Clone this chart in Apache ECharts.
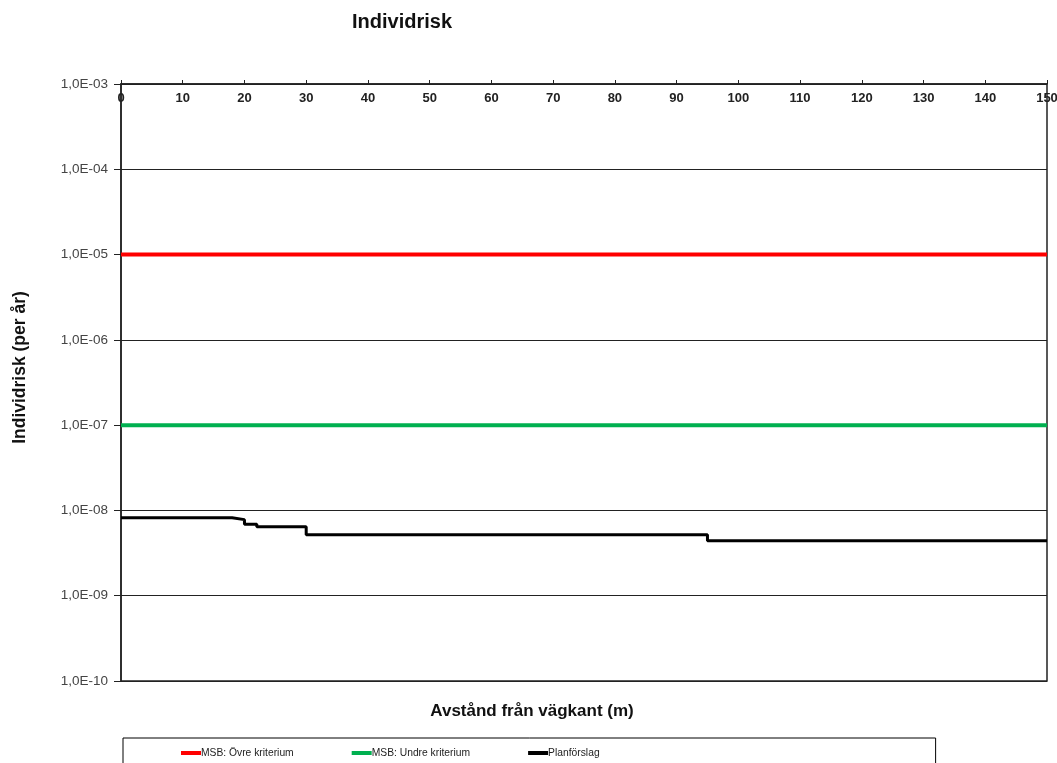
<!DOCTYPE html>
<html><head><meta charset="utf-8">
<script src="https://cdn.jsdelivr.net/npm/echarts@6/dist/echarts.min.js"></script>
<style>html,body{margin:0;padding:0;background:#fff}#c{width:1057px;height:763px}</style>
</head><body><div id="c"></div>
<script>
const distances = [0, 18, 20, 22, 30, 95, 150];
const planValues = [8.2e-9, 7.8e-9, 6.9e-9, 6.45e-9, 5.2e-9, 4.4e-9, 4.4e-9];
const criteriaX = [0, 150];
const upperValues = [1e-5, 1e-5];
const lowerValues = [1e-7, 1e-7];
const seriesNames = ['MSB: Övre kriterium', 'MSB: Undre kriterium', 'Planförslag'];
const xTicks = [0,10,20,30,40,50,60,70,80,90,100,110,120,130,140,150];

const pairs = (xs, ys) => xs.map((x, i) => [x, ys[i]]);
const font = 'Liberation Sans, Arial, sans-serif';
const chart = echarts.init(document.getElementById('c'));
chart.setOption({
  animation: false,
  title: { text: 'Individrisk', left: 347, top: 7, textStyle: { fontFamily: font, fontSize: 20, fontWeight: 'bold', color: '#111' } },
  grid: { left: 121, right: 10, top: 84, bottom: 82, show: true, borderColor: '#222', borderWidth: 1.5, backgroundColor: 'transparent', outerBoundsMode: 'none', containLabel: false },
  legend: {
    top: 738, left: 123, padding: [10, 336, 20, 58],
    borderColor: '#000', borderWidth: 1, itemGap: 58, itemWidth: 20, itemHeight: 4,
    icon: 'rect',
    textStyle: { fontFamily: font, fontSize: 10.3, color: '#222', padding: [0, 0, 0, -5] },
    data: seriesNames
  },
  xAxis: [{
    type: 'value', position: 'top', min: 0, max: 150, interval: 10,
    axisLine: { show: true, lineStyle: { color: '#222', width: 1.5 } },
    axisTick: { show: true, inside: false, length: 4, lineStyle: { color: '#222' } },
    axisLabel: { inside: true, margin: 8, fontFamily: font, fontSize: 13, fontWeight: 'bold', color: '#222', verticalAlign: 'top',
      customValues: xTicks },
    splitLine: { show: false }
  }, {
    type: 'value', position: 'bottom', min: 0, max: 150, interval: 10,
    name: 'Avstånd från vägkant (m)', nameLocation: 'middle', nameGap: 22,
    nameTextStyle: { fontFamily: font, fontSize: 17, fontWeight: 'bold', color: '#111', padding: [0, 104, 0, 0] },
    axisLine: { show: false }, axisTick: { show: false }, axisLabel: { show: false }, splitLine: { show: false }
  }],
  yAxis: {
    type: 'log', logBase: 10, min: 1e-10, max: 1e-3,
    name: 'Individrisk (per år)', nameLocation: 'middle', nameGap: 92, nameRotate: 90,
    nameTextStyle: { fontFamily: font, fontSize: 17.5, fontWeight: 'bold', color: '#111', padding: [0, 0, 0, 30] },
    axisLine: { show: true, lineStyle: { color: '#222', width: 1.5 } },
    axisTick: { show: true, length: 7, lineStyle: { color: '#222' } },
    axisLabel: { margin: 13, fontFamily: font, fontSize: 13.5, color: '#444',
      formatter: v => { const e = Math.round(Math.log10(v)); const s = Math.abs(e) < 10 ? '0' + Math.abs(e) : '' + Math.abs(e); return '1,0E' + (e < 0 ? '-' : '+') + s; } },
    splitLine: { show: true, lineStyle: { color: '#222', width: 1 } }
  },
  series: [
    { name: seriesNames[0], type: 'line', data: pairs(criteriaX, upperValues), symbol: 'none', lineStyle: { color: '#ff0000', width: 4 }, itemStyle: { color: '#ff0000' } },
    { name: seriesNames[1], type: 'line', data: pairs(criteriaX, lowerValues), symbol: 'none', lineStyle: { color: '#00b050', width: 4 }, itemStyle: { color: '#00b050' } },
    { name: seriesNames[2], type: 'line', step: 'end', data: pairs(distances, planValues), symbol: 'none', lineStyle: { color: '#000', width: 3 }, itemStyle: { color: '#000' } }
  ]
});
</script></body></html>
